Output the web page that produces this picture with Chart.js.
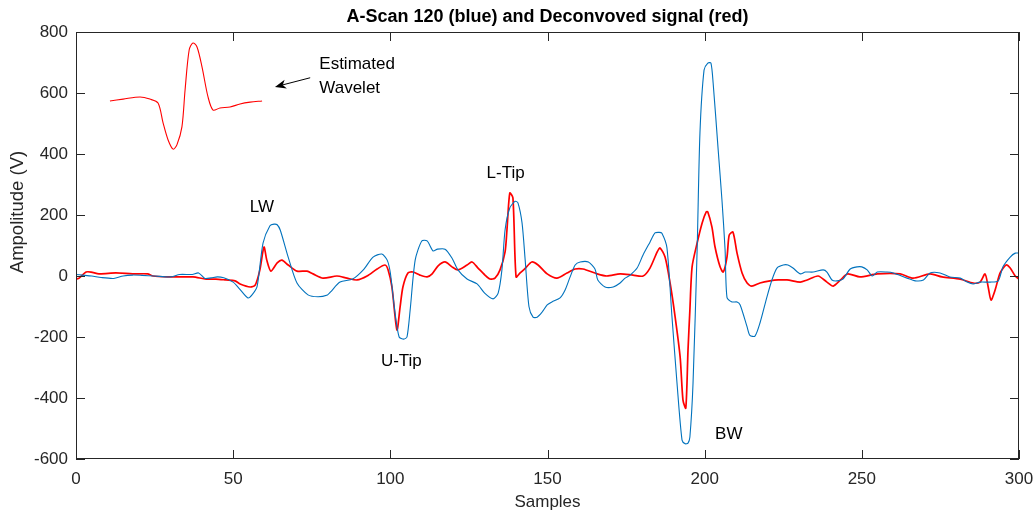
<!DOCTYPE html>
<html>
<head>
<meta charset="utf-8">
<script src="https://cdn.jsdelivr.net/npm/chart.js@4.4.1/dist/chart.umd.min.js"></script>
<style>
html,body{margin:0;padding:0;background:#fff;}
#wrap{position:relative;width:1036px;height:510px;}
</style>
</head>
<body>
<div id="wrap"><canvas id="c" width="1036" height="510"></canvas></div>
<script>
// ---- data ----
const xTicks = [0, 50, 100, 150, 200, 250, 300];
const yTicks = [-600, -400, -200, 0, 200, 400, 600, 800];

const blueX = [0,2,5,8,12,15,18,21,25,30,33,37,39,41,43,45,47,50,52,54.7,56,57.6,59.5,61.7,63,64,65,67.5,70.3,73.8,77,80,81,84,88,91.4,94.5,97.3,99,100,101.5,102.8,104.3,105.3,106.3,107.9,110,111.7,113.6,115,117.4,119.6,121.5,124.4,127.6,130,132.7,134.3,135.5,136.5,138,139.7,140.6,141.9,142.9,144.1,145.4,146.7,148.3,149.9,151.4,154,155.6,157.2,158.8,160.4,163,165.1,166,168.3,170.9,173.1,174.7,176.3,178.5,180.4,182.6,184.2,185.5,186.4,188,189.6,191.2,192.8,193.8,194.7,195.3,196.3,197.6,198.5,199.8,201,202,202.7,204.3,205.5,206.5,207.1,208.7,210.3,211.3,213.5,214.4,216,217.6,219.8,221.4,223,225,226.5,228.1,230.4,232,234.5,237.7,238.9,240.5,242.1,244,246.3,248.5,250,251.7,253.3,254.9,258,260,264.4,267,269.6,271.7,274.9,278,281.3,283.5,285.4,287.6,290.8,293.4,294.9,297.2,298.8,300];
const blueY = [5,3,0,-5,-8,0,3,2,0,-3,5,5,10,-8,-6,-3,-6,-20,-42,-72,-62,-35,108,165,170,168,150,62,-23,-62,-68,-62,-52,-20,-10,20,62,72,52,10,-121,-200,-207,-200,-112,52,115,115,82,88,88,59,20,-10,-26,-56,-75,-56,20,151,223,245,240,174,52,-100,-135,-135,-118,-95,-85,-72,-46,-3,36,46,46,23,-13,-36,-36,-23,-7,3,26,69,111,141,143,140,92,-134,-351,-538,-550,-548,-528,-351,85,469,675,698,698,632,413,249,85,-70,-85,-85,-95,-167,-195,-197,-154,-69,-13,26,36,36,26,7,13,13,20,13,-13,-16,-10,23,30,30,20,0,13,13,10,-7,-16,-13,10,10,-3,-7,-20,-26,-20,-20,-16,30,62,75,75];

const redX = [0,1,3.2,4.8,7.3,12.7,18,22.8,24.5,29.7,32.8,37.2,41.4,44.5,47.7,50.6,52.2,55.4,57,58.5,59.8,60.7,62,64,65.5,67.5,70.3,73.5,75.4,78.6,83,86.2,89.4,92.6,95.8,98.3,99.3,100.5,102.1,103.1,104,105.6,107.2,109.4,111.7,113.3,115.2,117.4,119.6,121.5,124.4,126,127.9,130.1,131.7,133.3,134.9,136.5,137.1,138,139,140,141.3,142.9,145,147,149.9,153,156.2,158.8,161.3,165.8,168.9,173.1,177.2,180.4,182.6,184.9,185.8,187.4,189,190.6,192.2,193.1,194,194.7,195.3,196,197.6,199.2,200.5,201,202.3,203.3,204.9,205.9,207.1,207.8,209,210.3,211.9,213.5,215,217.6,220.8,223.4,226.2,230.4,232.6,236.1,238.9,240.9,243.2,245.5,249.4,254.9,262.2,266.3,271.7,275.5,281.3,285.4,287.6,289.2,290.2,291.1,292.4,294,295.9,297.2,298.8,300];
const redY = [-10,-7,13,13,7,10,7,7,0,-3,-3,-3,-10,-10,-13,-16,-26,-36,-30,20,95,52,16,43,52,36,16,16,7,-7,0,-7,-13,0,23,36,20,-36,-177,-102,-36,10,13,3,-3,7,33,46,30,20,36,46,26,3,-10,-7,20,79,151,272,256,-3,10,25,46,36,7,-7,10,23,23,7,0,7,3,0,26,79,92,62,-23,-134,-266,-407,-433,-243,-111,30,108,174,210,210,161,95,30,13,62,134,144,75,10,-23,-33,-23,-16,-13,-13,-20,-13,0,-20,-33,-13,7,-3,7,7,-7,7,-3,-10,-23,-20,7,-36,-79,-46,10,36,26,0,-10];

const waveX = [10.8,15,20.4,23.5,26.1,27.7,29.3,30.9,32.1,33.7,34.7,36,37.2,38.5,40.1,42,43.6,45.8,49,52.2,55.4,59.2];
const waveY = [574,580,587,580,567,502,446,416,430,489,610,741,764,751,685,587,544,551,554,564,570,574];

const labels = [
  {text:'LW', x:55.3, y:226},
  {text:'L-Tip', x:130.6, y:336},
  {text:'U-Tip', x:97, y:-281},
  {text:'BW', x:203.3, y:-518},
  {text:'Estimated', x:77.4, y:695},
  {text:'Wavelet', x:77.4, y:616}
];
const arrow = {x1:74.5, y1:650, x2:63.3, y2:620};

const titleText = 'A-Scan 120 (blue) and Deconvoved signal (red)';
const xTitle = 'Samples';
const yTitle = 'Ampolitude (V)';

// ---- build ----
const zip = (xs, ys) => xs.map((x, i) => ({x, y: ys[i]}));
const FONT = '"Liberation Sans", Arial, sans-serif';
const AX = '#262626';

const deco = {
  id: 'deco',
  afterDraw(chart) {
    const {ctx, chartArea: a, scales: {x, y}} = chart;
    ctx.save();
    // box
    ctx.strokeStyle = AX; ctx.lineWidth = 1;
    ctx.strokeRect(a.left + 0.5, a.top + 0.5, a.right - a.left - 1, a.bottom - a.top - 1);
    // ticks inside
    ctx.beginPath();
    const tl = 9;
    xTicks.forEach(v => {
      const px = Math.round(x.getPixelForValue(v)) + 0.5;
      ctx.moveTo(px, a.bottom); ctx.lineTo(px, a.bottom - tl);
      ctx.moveTo(px, a.top); ctx.lineTo(px, a.top + tl);
    });
    yTicks.forEach(v => {
      const py = Math.round(y.getPixelForValue(v)) + 0.5;
      ctx.moveTo(a.left, py); ctx.lineTo(a.left + tl, py);
      ctx.moveTo(a.right, py); ctx.lineTo(a.right - tl, py);
    });
    ctx.stroke();
    // tick labels
    ctx.fillStyle = AX;
    ctx.font = '17px ' + FONT;
    ctx.textBaseline = 'middle';
    ctx.textAlign = 'center';
    xTicks.forEach(v => ctx.fillText(String(v), x.getPixelForValue(v), a.bottom + 20));
    ctx.textAlign = 'right';
    yTicks.forEach(v => ctx.fillText(String(v), a.left - 8, y.getPixelForValue(v)));
    // text labels
    ctx.fillStyle = '#000';
    ctx.textAlign = 'left';
    labels.forEach(l => ctx.fillText(l.text, x.getPixelForValue(l.x), y.getPixelForValue(l.y)));
    // arrow
    const x1 = x.getPixelForValue(arrow.x1), y1 = y.getPixelForValue(arrow.y1);
    const x2 = x.getPixelForValue(arrow.x2), y2 = y.getPixelForValue(arrow.y2);
    const ang = Math.atan2(y2 - y1, x2 - x1);
    ctx.strokeStyle = '#000'; ctx.lineWidth = 1;
    ctx.beginPath(); ctx.moveTo(x1, y1); ctx.lineTo(x2 - 8 * Math.cos(ang), y2 - 8 * Math.sin(ang)); ctx.stroke();
    ctx.beginPath();
    ctx.moveTo(x2, y2);
    ctx.lineTo(x2 - 12 * Math.cos(ang - 0.38), y2 - 12 * Math.sin(ang - 0.38));
    ctx.lineTo(x2 - 8 * Math.cos(ang), y2 - 8 * Math.sin(ang));
    ctx.lineTo(x2 - 12 * Math.cos(ang + 0.38), y2 - 12 * Math.sin(ang + 0.38));
    ctx.closePath(); ctx.fill();
    // title
    ctx.font = 'bold 18px ' + FONT;
    ctx.textAlign = 'center';
    ctx.fillText(titleText, (a.left + a.right) / 2, 17);
    // axis titles
    ctx.font = '17px ' + FONT;
    ctx.fillStyle = AX;
    ctx.fillText(xTitle, (a.left + a.right) / 2, 502);
    ctx.translate(18, 212);
    ctx.rotate(-Math.PI / 2);
    ctx.font = '18.5px ' + FONT;
    ctx.fillText(yTitle, 0, 0);
    ctx.restore();
  }
};

new Chart(document.getElementById('c'), {
  type: 'line',
  data: {
    datasets: [
      {data: zip(blueX, blueY), borderColor: '#0072BD', borderWidth: 1.1, pointRadius: 0, tension: 0.25},
      {data: zip(redX, redY), borderColor: '#FF0000', borderWidth: 1.7, pointRadius: 0, tension: 0.25},
      {data: zip(waveX, waveY), borderColor: '#FF0000', borderWidth: 1.1, pointRadius: 0, tension: 0.3}
    ]
  },
  options: {
    responsive: false,
    animation: false,
    events: [],
    layout: {padding: {top: 32, right: 17, left: 0, bottom: 0}},
    plugins: {legend: {display: false}, tooltip: {enabled: false}},
    scales: {
      x: {
        type: 'linear', min: 0, max: 300,
        afterBuildTicks: s => { s.ticks = xTicks.map(v => ({value: v})); },
        afterFit: s => { s.height = 51; },
        grid: {display: false, drawTicks: false},
        border: {display: false},
        ticks: {display: false}
      },
      y: {
        type: 'linear', min: -600, max: 800,
        afterBuildTicks: s => { s.ticks = yTicks.map(v => ({value: v})); },
        afterFit: s => { s.width = 76; },
        grid: {display: false, drawTicks: false},
        border: {display: false},
        ticks: {display: false}
      }
    }
  },
  plugins: [deco]
});
</script>
</body>
</html>
